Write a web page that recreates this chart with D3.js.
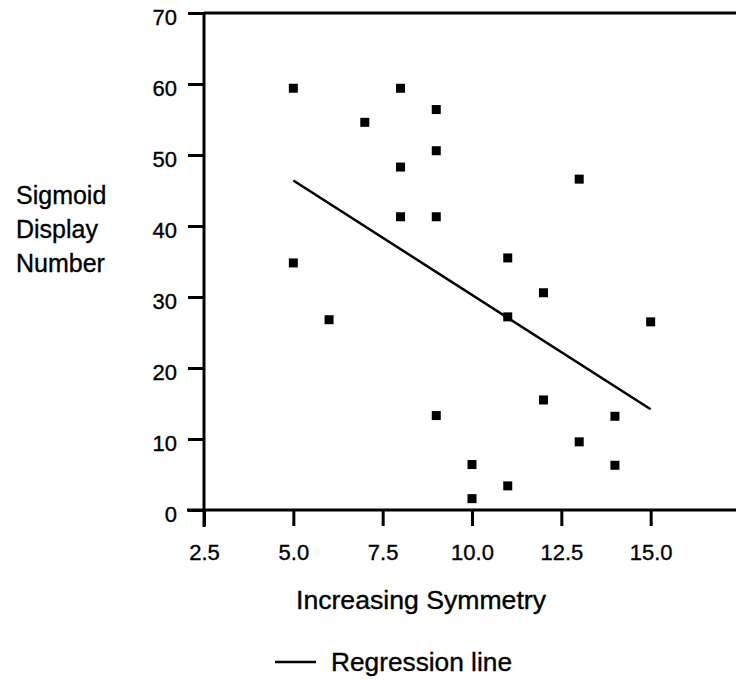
<!DOCTYPE html>
<html>
<head>
<meta charset="utf-8">
<script src="https://cdn.jsdelivr.net/npm/d3@7"></script>
<style>
  html, body { margin: 0; padding: 0; background: #fff; }
  svg text { font-family: "Liberation Sans", Arial, Helvetica, sans-serif; fill: #000; stroke: #000; stroke-width: 0.35px; }
</style>
</head>
<body>
<svg id="chart" width="736" height="681"></svg>
<script>
// Data
const symmetryX = [5, 5, 6, 7, 8, 8, 8, 9, 9, 9, 9, 10, 10, 11, 11, 11, 12, 12, 13, 13, 14, 14, 15];
const sigmoidY  = [59.4, 34.8, 26.8, 54.6, 59.4, 48.3, 41.3, 56.4, 50.6, 41.3, 13.3, 6.4, 1.6, 35.5, 27.2, 3.4, 30.6, 15.5, 46.6, 9.6, 13.2, 6.3, 26.5];
const regressionX = [5, 15];
const regressionY = [46.4, 14.2];
const xTicks = [2.5, 5.0, 7.5, 10.0, 12.5, 15.0];
const yTicks = [0, 10, 20, 30, 40, 50, 60, 70];
const yTitleLines = ["Sigmoid", "Display", "Number"];
const xTitle = "Increasing Symmetry";
const legendLabel = "Regression line";

const svg = d3.select("#chart");
const x = d3.scaleLinear().domain([2.5, 17.5]).range([204, 740]);
const y = d3.scaleLinear().domain([0, 70]).range([510, 13]);

// top frame line
svg.append("line")
  .attr("x1", x(2.5)).attr("x2", 740)
  .attr("y1", y(70)).attr("y2", y(70))
  .attr("stroke", "#000").attr("stroke-width", 3);

// y axis
const yAxis = svg.append("g")
  .attr("transform", `translate(${x(2.5)},0)`)
  .call(d3.axisLeft(y).tickValues(yTicks).tickFormat(d3.format("d"))
        .tickSize(16).tickSizeOuter(0).tickPadding(11));
yAxis.select(".domain").remove();
yAxis.append("line").attr("x1", 0).attr("x2", 0).attr("y1", y(70)).attr("y2", 527)
  .attr("stroke", "#000").attr("stroke-width", 3);
yAxis.selectAll(".tick line").attr("stroke-width", 3);
yAxis.selectAll("text").attr("font-size", 22).attr("dy", "0.5em");

// x axis
const xAxis = svg.append("g")
  .attr("transform", `translate(0,${y(0)})`)
  .call(d3.axisBottom(x).tickValues(xTicks).tickFormat(d3.format(".1f"))
        .tickSize(16).tickSizeOuter(0).tickPadding(18));
xAxis.select(".domain").remove();
xAxis.append("line").attr("x1", 187).attr("x2", 740).attr("y1", 0).attr("y2", 0)
  .attr("stroke", "#000").attr("stroke-width", 3);
xAxis.selectAll(".tick line").attr("stroke-width", 3);
xAxis.selectAll("text").attr("font-size", 22).attr("dy", "0.71em");

// regression line
const line = d3.line().x(d => x(d[0])).y(d => y(d[1]));
svg.append("path")
  .datum(d3.zip(regressionX, regressionY))
  .attr("d", line)
  .attr("fill", "none").attr("stroke", "#000").attr("stroke-width", 2.5);

// points
const s = 9;
svg.append("g").selectAll("rect")
  .data(d3.zip(symmetryX, sigmoidY))
  .join("rect")
  .attr("x", d => x(d[0]) - s / 2)
  .attr("y", d => y(d[1]) - s / 2)
  .attr("width", s).attr("height", s)
  .attr("fill", "#000");

// y title
svg.append("text")
  .attr("x", 16).attr("y", 204)
  .attr("font-size", 25)
  .selectAll("tspan").data(yTitleLines).join("tspan")
  .attr("x", 16).attr("dy", (d, i) => i === 0 ? 0 : 34)
  .text(d => d);

// x title
svg.append("text")
  .attr("x", 296).attr("y", 609)
  .attr("font-size", 25)
  .attr("textLength", 250).attr("lengthAdjust", "spacingAndGlyphs")
  .text(xTitle);

// legend
svg.append("line")
  .attr("x1", 275).attr("x2", 316).attr("y1", 662).attr("y2", 662)
  .attr("stroke", "#000").attr("stroke-width", 2.5);
svg.append("text")
  .attr("x", 331).attr("y", 671).attr("font-size", 25)
  .attr("textLength", 181).attr("lengthAdjust", "spacingAndGlyphs")
  .text(legendLabel);
</script>
</body>
</html>
